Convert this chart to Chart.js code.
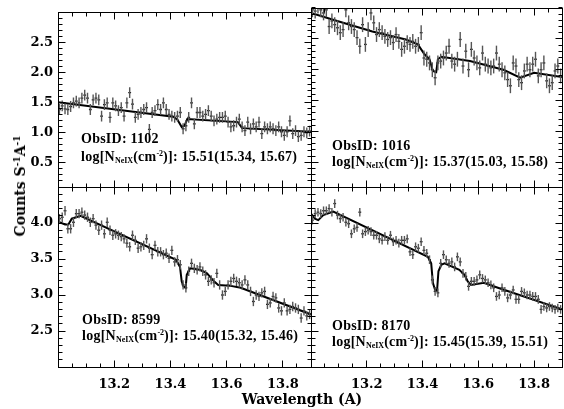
<!DOCTYPE html>
<html>
<head>
<meta charset="utf-8">
<script src="https://cdn.jsdelivr.net/npm/chart.js@4.4.0/dist/chart.umd.min.js"></script>
<style>
  body { margin: 0; background: #fff; }
  #wrap { position: relative; width: 564px; height: 409px; font-family: 'DejaVu Serif', serif; color: #000; }
  #wrap canvas { position: absolute; left: 0; top: 0; }
  .note { position: absolute; font: bold 14px 'Liberation Serif', serif; line-height: 16px; letter-spacing: 0.25px; white-space: nowrap; }
  .note sub { font-size: 8px; vertical-align: -2px; line-height: 0; letter-spacing: 0; }
  .note sup { font-size: 8px; vertical-align: 5px; line-height: 0; letter-spacing: 0; }
  .axt { position: absolute; font: bold 14px 'DejaVu Serif', serif; white-space: nowrap; line-height: 16px; }
  .axt sup { font-size: 9px; vertical-align: 5px; line-height: 0; }
</style>
</head>
<body>
<div id="wrap">
  <canvas id="tl" width="564" height="409"></canvas>
  <canvas id="tr" width="564" height="409"></canvas>
  <canvas id="bl" width="564" height="409"></canvas>
  <canvas id="br" width="564" height="409"></canvas>

  <div class="note" style="left:81px;top:131px">ObsID: 1102</div>
  <div class="note" style="left:81px;top:149px">log[N<sub>NeIX</sub>(cm<sup>-2</sup>)]: 15.51(15.34, 15.67)</div>
  <div class="note" style="left:332px;top:138px">ObsID: 1016</div>
  <div class="note" style="left:332px;top:154px">log[N<sub>NeIX</sub>(cm<sup>-2</sup>)]: 15.37(15.03, 15.58)</div>
  <div class="note" style="left:82px;top:312px">ObsID: 8599</div>
  <div class="note" style="left:82px;top:328px">log[N<sub>NeIX</sub>(cm<sup>-2</sup>)]: 15.40(15.32, 15.46)</div>
  <div class="note" style="left:332px;top:318px">ObsID: 8170</div>
  <div class="note" style="left:332px;top:334px">log[N<sub>NeIX</sub>(cm<sup>-2</sup>)]: 15.45(15.39, 15.51)</div>

  <div class="axt" style="left:302px;top:399px;transform:translate(-50%,-50%)">Wavelength (A)</div>
  <div class="axt" style="left:20px;top:186px;transform:translate(-50%,-50%) rotate(-90deg)">Counts S<sup>-1</sup>A<sup>-1</sup></div>
</div>

<script>
// ---- data ----

// bin centres, Angstrom (same binning in all four spectra)
const wave = [
  13.005, 13.015, 13.025, 13.035, 13.045, 13.055, 13.065, 13.075, 13.085, 13.095,
  13.105, 13.115, 13.125, 13.135, 13.145, 13.155, 13.165, 13.175, 13.185, 13.195,
  13.205, 13.215, 13.225, 13.235, 13.245, 13.255, 13.265, 13.275, 13.285, 13.295,
  13.305, 13.315, 13.325, 13.335, 13.345, 13.355, 13.365, 13.375, 13.385, 13.395,
  13.405, 13.415, 13.425, 13.435, 13.445, 13.455, 13.465, 13.475, 13.485, 13.495,
  13.505, 13.515, 13.525, 13.535, 13.545, 13.555, 13.565, 13.575, 13.585, 13.595,
  13.605, 13.615, 13.625, 13.635, 13.645, 13.655, 13.665, 13.675, 13.685, 13.695,
  13.705, 13.715, 13.725, 13.735, 13.745, 13.755, 13.765, 13.775, 13.785, 13.795,
  13.805, 13.815, 13.825, 13.835, 13.845, 13.855, 13.865, 13.875, 13.885, 13.895
];
const binHalf = 0.005;

// ObsID 1102
const countsTL = [
  1.39, 1.45, 1.40, 1.39, 1.44, 1.50, 1.53, 1.50, 1.58, 1.63,
  1.58, 1.39, 1.55, 1.58, 1.55, 1.28, 1.47, 1.50, 1.26, 1.50,
  1.45, 1.37, 1.42, 1.28, 1.50, 1.67, 1.48, 1.26, 1.31, 1.34,
  1.39, 1.42, 1.06, 1.34, 1.37, 1.47, 1.39, 1.50, 1.39, 1.31,
  1.28, 1.26, 1.28, 1.34, 1.07, 1.12, 1.26, 1.50, 1.15, 1.34,
  1.34, 1.28, 1.31, 1.37, 1.28, 1.20, 1.23, 1.26, 1.26, 1.28,
  1.18, 1.10, 1.12, 1.18, 1.23, 1.10, 1.04, 1.18, 1.07, 1.15,
  1.10, 1.18, 0.99, 1.10, 1.07, 1.10, 1.07, 1.04, 1.10, 1.02,
  0.96, 1.02, 1.20, 0.99, 1.04, 0.94, 0.96, 1.02, 1.00, 1.03
];
const errTL = 0.09;
const modelTLx = [13.00, 13.41, 13.425, 13.44, 13.45, 13.46, 13.64, 13.655, 13.90];
const modelTLy = [1.51, 1.27, 1.22, 1.10, 1.12, 1.23, 1.18, 1.08, 1.02];

// ObsID 1016
const countsTR = [
  2.97, 2.95, 3.03, 2.97, 2.92, 2.97, 2.70, 2.79, 2.73, 2.68,
  2.60, 2.65, 2.97, 2.76, 2.70, 2.65, 2.52, 2.38, 2.73, 2.41,
  2.65, 2.92, 2.76, 2.57, 2.65, 2.60, 2.54, 2.49, 2.52, 2.44,
  2.57, 2.46, 2.33, 2.38, 2.44, 2.41, 2.46, 2.38, 2.41, 2.60,
  2.19, 2.17, 2.11, 2.00, 1.87, 2.11, 2.14, 2.19, 2.27, 2.38,
  2.14, 2.09, 2.17, 2.49, 2.06, 2.30, 2.00, 2.33, 2.19, 2.11,
  2.03, 2.27, 2.09, 2.06, 2.03, 2.06, 2.27, 2.09, 2.00, 1.95,
  1.84, 1.74, 2.11, 2.06, 1.84, 1.79, 1.98, 2.09, 2.00, 2.09,
  2.17, 1.90, 2.00, 2.11, 1.82, 1.74, 1.79, 1.98, 2.06, 1.90
];
const errTR = 0.12;
const modelTRx = [13.00, 13.10, 13.22, 13.34, 13.383, 13.395, 13.407, 13.425, 13.437, 13.449, 13.455, 13.467, 13.57, 13.69, 13.75, 13.80, 13.90];
const modelTRy = [2.92, 2.78, 2.62, 2.49, 2.41, 2.33, 2.25, 2.17, 1.98, 1.96, 2.17, 2.21, 2.14, 2.00, 1.87, 1.95, 1.88];

// ObsID 8599
const countsBL = [
  4.06, 4.08, 4.17, 3.92, 3.92, 4.01, 4.13, 4.13, 4.15, 4.11,
  4.08, 4.01, 4.06, 3.97, 3.90, 3.97, 3.85, 4.01, 3.90, 3.83,
  3.85, 3.83, 3.81, 3.78, 3.72, 3.67, 3.83, 3.76, 3.65, 3.67,
  3.69, 3.78, 3.65, 3.56, 3.69, 3.60, 3.60, 3.56, 3.58, 3.51,
  3.62, 3.46, 3.49, 3.42, 3.14, 3.10, 3.33, 3.44, 3.37, 3.35,
  3.39, 3.33, 3.28, 3.19, 3.21, 3.17, 3.30, 3.14, 3.00, 3.05,
  3.14, 3.19, 3.23, 3.19, 3.17, 3.14, 3.21, 3.14, 3.05, 2.91,
  3.00, 2.98, 3.03, 3.05, 2.87, 2.89, 2.98, 2.96, 2.82, 2.78,
  2.89, 2.78, 2.80, 2.84, 2.82, 2.80, 2.68, 2.78, 2.71, 2.73
];
const errBL = 0.065;
const modelBLx = [13.00, 13.025, 13.037, 13.049, 13.08, 13.42, 13.434, 13.44, 13.446, 13.454, 13.458, 13.47, 13.505, 13.53, 13.555, 13.57, 13.61, 13.65, 13.90];
const modelBLy = [4.02, 3.98, 3.98, 4.06, 4.10, 3.49, 3.39, 3.19, 3.12, 3.10, 3.28, 3.37, 3.35, 3.30, 3.19, 3.14, 3.13, 3.10, 2.73];

// ObsID 8170
const countsBR = [
  4.04, 4.13, 4.15, 4.13, 4.17, 4.17, 4.20, 4.15, 4.27, 4.11,
  4.06, 4.08, 4.01, 3.99, 3.85, 3.92, 3.94, 4.15, 3.85, 3.88,
  3.90, 3.88, 3.83, 3.83, 3.78, 3.76, 3.81, 3.76, 3.83, 3.74,
  3.76, 3.72, 3.76, 3.76, 3.78, 3.60, 3.56, 3.67, 3.65, 3.74,
  3.62, 3.58, 3.49, 3.21, 3.05, 3.03, 3.44, 3.56, 3.49, 3.44,
  3.46, 3.39, 3.53, 3.46, 3.30, 3.26, 3.12, 3.19, 3.19, 3.21,
  3.28, 3.23, 3.21, 3.17, 3.14, 3.10, 2.98, 3.00, 3.10, 3.05,
  2.96, 3.00, 3.07, 2.94, 2.94, 3.05, 3.03, 3.00, 3.00, 2.98,
  2.98, 2.94, 2.80, 2.84, 2.82, 2.84, 2.82, 2.80, 2.82, 2.80
];
const errBR = 0.06;
const modelBRx = [13.00, 13.014, 13.026, 13.044, 13.08, 13.419, 13.431, 13.437, 13.445, 13.452, 13.457, 13.467, 13.479, 13.532, 13.55, 13.562, 13.574, 13.62, 13.67, 13.90];
const modelBRy = [4.13, 4.06, 4.04, 4.11, 4.16, 3.53, 3.44, 3.17, 3.07, 3.06, 3.33, 3.42, 3.44, 3.35, 3.28, 3.19, 3.14, 3.17, 3.10, 2.80];

// axes
const xRange = [13.0, 13.9];
const xTicks = [13.2, 13.4, 13.6, 13.8];
const xMinorStep = 0.05;
const yRangeTop = [0.1, 3.0];
const yTicksTop = [0.5, 1.0, 1.5, 2.0, 2.5];
const yRangeBottom = [2.0, 4.5];
const yTicksBottom = [2.5, 3.0, 3.5, 4.0];
const yMinorStep = 0.1;

const tickFont = { family: 'DejaVu Serif', size: 13, weight: 'bold' };

// ---- inward tick marks + box, IDL style ----
const frameTicks = {
  id: 'frameTicks',
  afterDatasetsDraw(chart, args, opts) {
    const { ctx, chartArea: a, scales: { x, y } } = chart;
    const L = Math.floor(a.left) + 0.5, R = Math.floor(a.right) + 0.5;
    const T = Math.floor(a.top) + 0.5, B = Math.floor(a.bottom) + 0.5;
    ctx.save();
    ctx.strokeStyle = '#000';
    ctx.lineWidth = 1;
    ctx.beginPath();
    const nx = Math.round((x.max - x.min) / xMinorStep);
    for (let k = 0; k <= nx; k++) {
      const v = x.min + k * xMinorStep;
      const px = Math.floor(x.getPixelForValue(v)) + 0.5;
      const len = (k % 4 === 0) ? 7 : 4;
      ctx.moveTo(px, B); ctx.lineTo(px, B - len);
      ctx.moveTo(px, T); ctx.lineTo(px, T + len);
    }
    const ny = Math.round((y.max - y.min) / yMinorStep);
    for (let k = 0; k <= ny; k++) {
      const v = y.min + k * yMinorStep;
      const major = opts.yTicks.some(t => Math.abs(t - v) < 1e-6);
      const py = Math.floor(y.getPixelForValue(v)) + 0.5;
      const len = major ? 7 : 4;
      ctx.moveTo(L, py); ctx.lineTo(L + len, py);
      ctx.moveTo(R, py); ctx.lineTo(R - len, py);
    }
    ctx.stroke();
    ctx.strokeRect(L, T, R - L, B - T);
    ctx.restore();
  }
};

function makePanel(id, pad, counts, err, modelX, modelY, yRange, yTicks, showY, showX) {
  const pts = wave.map((w, i) => ({ x: w, y: counts[i] }));
  const model = modelX.map((w, i) => ({ x: w, y: modelY[i] }));
  return new Chart(document.getElementById(id), {
    type: 'scatter',
    data: {
      datasets: [
        { // vertical error bars
          data: pts,
          pointStyle: 'line',
          rotation: 90,
          radius: c => {
            const s = c.chart.scales.y;
            return Math.abs(s.getPixelForValue(c.raw.y + err) - s.getPixelForValue(c.raw.y));
          },
          borderColor: '#555',
          borderWidth: 1.4,
          clip: 0
        },
        { // bin widths
          data: pts,
          pointStyle: 'line',
          rotation: 0,
          radius: c => {
            const s = c.chart.scales.x;
            return Math.abs(s.getPixelForValue(c.raw.x + binHalf) - s.getPixelForValue(c.raw.x));
          },
          borderColor: '#111',
          borderWidth: 1.3,
          clip: 0
        },
        { // fitted model
          data: model,
          showLine: true,
          pointRadius: 0,
          borderColor: '#000',
          borderWidth: 2,
          tension: 0,
          clip: 0
        }
      ]
    },
    options: {
      responsive: false,
      animation: false,
      events: [],
      layout: { padding: pad, autoPadding: false },
      plugins: {
        legend: { display: false },
        tooltip: { enabled: false },
        frameTicks: { yTicks }
      },
      scales: {
        x: {
          type: 'linear',
          min: xRange[0], max: xRange[1],
          display: showX,
          grid: { display: false, drawTicks: false },
          border: { display: false },
          afterBuildTicks: s => { s.ticks = xTicks.map(v => ({ value: v })); },
          afterFit: s => { s.height = showX ? 42 : 0; },
          ticks: {
            font: tickFont,
            color: '#000',
            padding: 10,
            maxRotation: 0,
            callback: v => v.toFixed(1)
          }
        },
        y: {
          type: 'linear',
          min: yRange[0], max: yRange[1],
          display: showY,
          grid: { display: false, drawTicks: false },
          border: { display: false },
          afterBuildTicks: s => { s.ticks = yTicks.map(v => ({ value: v })); },
          afterFit: s => { s.width = showY ? 58 : 0; },
          ticks: {
            font: tickFont,
            color: '#000',
            padding: 5,
            callback: v => v.toFixed(1)
          }
        }
      }
    },
    plugins: [frameTicks]
  });
}

makePanel('tl', { left: 0, top: 8, right: 253, bottom: 222 }, countsTL, errTL, modelTLx, modelTLy, yRangeTop, yTicksTop, true, false);
makePanel('tr', { left: 311, top: 8, right: 2, bottom: 222 }, countsTR, errTR, modelTRx, modelTRy, yRangeTop, yTicksTop, false, false);
makePanel('bl', { left: 0, top: 187, right: 253, bottom: 0 }, countsBL, errBL, modelBLx, modelBLy, yRangeBottom, yTicksBottom, true, true);
makePanel('br', { left: 311, top: 187, right: 2, bottom: 0 }, countsBR, errBR, modelBRx, modelBRy, yRangeBottom, yTicksBottom, false, true);
</script>
</body>
</html>
